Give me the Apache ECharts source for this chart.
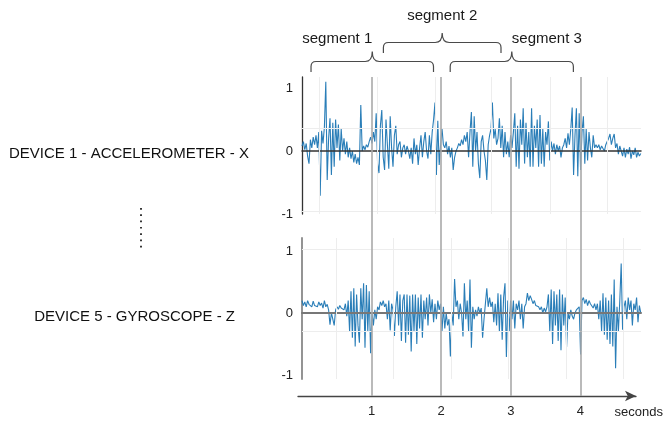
<!DOCTYPE html>
<html><head><meta charset="utf-8">
<script src="https://cdn.jsdelivr.net/npm/echarts@6/dist/echarts.min.js"></script>
<style>html,body{margin:0;padding:0;background:#fff}#c{width:666px;height:424px}</style>
</head><body><div id="c"></div>
<script>
// sample spacing in seconds
const dt = 0.02;
// DEVICE 1 - ACCELEROMETER - X
const accelX = [
 0.08, 0.15, 0.02, 0.12, -0.08, -0.2, 0.18, 0.05, 0.22, 0.1,
 0.25, 0.05, 0.3, -0.71, 0.32, 0.12, 0.38, 1.1, -0.46, 0.2,
 0.52, -0.38, 0.45, -0.25, 0.5, 0.05, 0.42, -0.15, 0.35, 0.0,
 0.2, -0.05, 0.15, -0.1, 0.05, -0.12, 0.0, -0.18, -0.05, -0.2,
 -0.1, -0.22, 0.73, 0.0, 0.08, 0.02, 0.1, 0.06, 0.15, 0.22,
 0.12, 0.3, 0.15, 0.6, -0.2, -0.35, 0.4, 0.65, -0.1, -0.3,
 0.5, 0.1, -0.28, 0.55, 0.05, -0.25, 0.25, 0.4, -0.05, 0.1,
 0.15, -0.1, 0.05, 0.1, -0.05, 0.08, 0.0, -0.12, 0.05, -0.2,
 0.2, -0.05, 0.1, -0.22, 0.05, 0.25, -0.1, 0.15, 0.3, 0.0,
 -0.12, 0.25, -0.05, 0.3, 0.5, 0.77, -0.38, 0.48, -0.22, 0.1,
 0.36, 0.1, 0.05, 0.15, -0.05, 0.08, -0.1, 0.05, -0.3, -0.1,
 0.0, 0.05, 0.12, 0.08, 0.18, 0.1, 0.25, 0.15, 0.3, -0.1,
 0.3, 0.62, -0.25, 0.55, 0.0, 0.3, -0.2, -0.43, 0.15, 0.25,
 0.0, -0.15, -0.46, 0.1, 0.25, 0.35, 0.77, 0.2, 0.35, 0.1,
 0.2, 0.52, 0.05, 0.4, -0.1, 0.3, -0.05, 0.15, -0.1, 0.25,
 0.05, 0.3, 0.6, -0.25, 0.4, -0.28, 0.5, 0.1, 0.68, -0.2,
 0.45, -0.1, 0.3, -0.25, 0.68, -0.25, 0.4, 0.05, 0.5, -0.25,
 0.57, -0.2, 0.35, -0.25, 0.3, 0.1, 0.47, -0.15, 0.15, 0.0,
 0.12, -0.05, 0.1, 0.0, 0.08, -0.1, 0.05, 0.1, 0.2, 0.05,
 0.28, 0.1, 0.35, 0.69, -0.38, 0.25, 0.68, -0.4, 0.6, -0.3,
 0.3, 0.55, -0.2, 0.35, -0.15, 0.3, 0.05, -0.1, 0.25, 0.05,
 0.1, 0.05, 0.1, 0.02, 0.08, 0.05, 0.0, 0.1, 0.15, 0.2,
 0.27, 0.1, 0.2, 0.27, 0.05, 0.12, -0.05, 0.08, 0.0, -0.08,
 0.05, -0.1, 0.03, -0.05, 0.06, -0.12, 0.0, -0.06, 0.05, -0.1,
 -0.02, -0.08, -0.04
];
// DEVICE 5 - GYROSCOPE - Z
const gyroZ = [
 0.2, 0.12, 0.18, 0.1, 0.2, 0.14, 0.17, 0.1, 0.19, 0.12,
 0.15, 0.1, 0.18, 0.12, 0.16, 0.08, 0.2, 0.1, 0.14, 0.05,
 -0.19, 0.0, -0.1, -0.2, 0.05, 0.1, 0.06, 0.12, 0.08, 0.1,
 0.05, 0.15, -0.05, 0.2, -0.3, 0.35, -0.4, 0.4, -0.54, 0.3,
 -0.2, -0.48, 0.4, -0.1, 0.48, -0.56, 0.45, -0.3, 0.35, -0.65,
 0.0, -0.2, 0.05, -0.1, 0.1, 0.05, 0.18, 0.12, 0.2, 0.1,
 0.15, -0.1, 0.2, -0.28, 0.15, 0.05, -0.37, 0.1, 0.35, -0.2,
 0.3, -0.45, 0.2, 0.3, -0.48, 0.3, -0.35, 0.28, -0.62, 0.3,
 -0.3, 0.3, -0.5, 0.25, -0.25, 0.3, -0.4, 0.2, -0.1, 0.25,
 -0.2, 0.3, 0.0, 0.22, -0.15, 0.15, -0.1, 0.2, 0.05, 0.15,
 -0.3, 0.1, -0.25, 0.0, -0.2, -0.1, -0.7, 0.0, -0.2, 0.55,
 0.1, 0.2, -0.1, 0.15, 0.0, -0.38, 0.48, -0.1, 0.2, -0.3,
 0.54, -0.56, 0.1, -0.1, 0.05, -0.05, 0.1, 0.0, 0.08, -0.4,
 -0.1, 0.15, 0.4, 0.1, 0.25, 0.1, 0.18, -0.15, 0.15, -0.2,
 0.32, -0.3, 0.3, -0.43, 0.25, 0.48, -0.71, 0.2, -0.3, 0.2,
 -0.1, 0.2, -0.25, 0.15, 0.05, 0.2, -0.1, 0.15, -0.25, 0.1,
 0.15, 0.32, 0.2, 0.28, 0.22, 0.15, 0.2, 0.12, 0.15, 0.1,
 0.05, 0.1, 0.0, 0.08, 0.02, 0.1, 0.3, -0.3, 0.38, -0.5,
 0.35, -0.2, 0.3, -0.45, 0.38, -0.6, 0.3, -0.2, 0.25, -0.55,
 0.0, -0.1, 0.05, -0.05, -0.1, 0.0, 0.05, 0.08, 0.1, -0.67,
 0.2, 0.25, 0.15, 0.22, 0.12, 0.2, 0.15, 0.18, 0.08, 0.15,
 0.05, 0.15, -0.1, 0.2, -0.3, 0.32, -0.35, 0.25, -0.43, 0.2,
 -0.5, 0.3, -0.54, 0.54, -0.89, 0.1, -0.3, 0.2, 0.8, -0.27,
 0.1, 0.2, -0.1, 0.25, 0.05, 0.2, -0.2, 0.15, 0.05, 0.25,
 -0.15, 0.12, 0.0
];
const panelLabels = ['DEVICE 1 - ACCELEROMETER - X', 'DEVICE 5 - GYROSCOPE - Z'];
const yTicks = [-1, 0, 1];
const secondTicks = [1, 2, 3, 4];
const xName = 'seconds';
// analysis windows (seconds)
const segLabels = ['segment 1', 'segment 2', 'segment 3'];
const segStart = [0.13, 1.17, 2.13];
const segEnd = [1.89, 2.86, 3.90];
const segRow = [0, 1, 0];
// faint background grid lines (seconds / values)
const topFaintX = [0.243, 1.071, 1.9, 2.714, 3.543, 4.357];
const topFaintY = [0.365, -0.95];
const botFaintX = [0.486, 1.3, 2.129, 2.943, 3.771, 4.586];
const botFaintY = [1.03, -0.29];

const FONT = '"Liberation Sans", Arial, Helvetica, sans-serif';
const toPairs = arr => arr.map((v, i) => [+(i * dt).toFixed(2), v]);
const tEnd = 4.843;

const chart = echarts.init(document.getElementById('c'), null, {renderer: 'canvas'});

function faintMark(xs, ys) {
  return {
    silent: true, symbol: ['none', 'none'], label: {show: false},
    lineStyle: {color: '#ededed', width: 1, type: 'solid'},
    emphasis: {disabled: true},
    data: xs.map(x => ({xAxis: x})).concat(ys.map(y => ({yAxis: y})))
  };
}

function bracePath(params, api) {
  const x1 = api.coord([api.value(0), 0])[0];
  const x2 = api.coord([api.value(1), 0])[0];
  const xm = (x1 + x2) / 2;
  const row = api.value(2);
  const tip = row ? 53 : 72;
  const bar = row ? 42.5 : 61.5;
  const cusp = row ? 33 : 51.5;
  const r = 5, rc = 7;
  const d = `M${x1},${tip} L${x1},${bar + r} Q${x1},${bar} ${x1 + r},${bar} L${xm - rc},${bar} Q${xm},${bar} ${xm},${cusp} Q${xm},${bar} ${xm + rc},${bar} L${x2 - r},${bar} Q${x2},${bar} ${x2},${bar + r} L${x2},${tip}`;
  const n = segLabels.length;
  const idx = params.dataIndex;
  const align = idx === 0 ? 'right' : (idx === n - 1 ? 'left' : 'center');
  return {
    type: 'group',
    children: [
      {type: 'path', shape: {pathData: d}, style: {fill: 'none', stroke: '#4a4a4a', lineWidth: 1.2}},
      {type: 'text', style: {text: segLabels[idx], x: xm, y: row ? 23 : 46, align: align, verticalAlign: 'bottom',
        font: '15px ' + FONT, fill: '#1a1a1a'}}
    ]
  };
}

const option = {
  animation: false,
  textStyle: {fontFamily: FONT},
  grid: [
    {left: 302, top: 77, width: 339, height: 137},
    {left: 302, top: 238, width: 339, height: 141},
    {left: 298, top: 77, right: 28, bottom: 28}
  ],
  xAxis: [
    {gridIndex: 0, type: 'value', min: 0, max: tEnd, z: 4,
     axisLine: {show: true, onZero: true, lineStyle: {color: '#333', width: 1.5}},
     axisTick: {show: false}, axisLabel: {show: false}, splitLine: {show: false}},
    {gridIndex: 1, type: 'value', min: 0, max: tEnd, z: 4,
     axisLine: {show: true, onZero: true, lineStyle: {color: '#777', width: 2}},
     axisTick: {show: false}, axisLabel: {show: false}, splitLine: {show: false}},
    {gridIndex: 2, type: 'value', min: -4 / 70, max: 4.8,
     axisLine: {show: true, onZero: false, symbol: ['none', 'arrow'], symbolSize: [8, 11],
       lineStyle: {color: '#444', width: 1.3}},
     axisTick: {show: false}, splitLine: {show: false},
     axisLabel: {customValues: secondTicks, fontSize: 13, color: '#222', margin: 9,
       formatter: v => (secondTicks.indexOf(v) >= 0 ? String(v) : '')},
     name: xName, nameLocation: 'end', nameGap: 27,
     nameTextStyle: {fontSize: 13, color: '#222', align: 'right', verticalAlign: 'top', padding: [10, 0, 0, 0]}}
  ],
  yAxis: [
    {gridIndex: 0, type: 'value', min: -1, max: 1.175,
     axisLine: {show: true, onZero: false, lineStyle: {color: '#333', width: 1.3}},
     axisTick: {show: false}, splitLine: {show: false},
     axisLabel: {customValues: yTicks, fontSize: 13, color: '#222', margin: 9},
     name: panelLabels[0], nameLocation: 'middle', nameRotate: 0, nameGap: 53,
     nameTextStyle: {fontSize: 15, color: '#111', verticalAlign: 'top', lineHeight: 16}},
    {gridIndex: 1, type: 'value', min: -1.065, max: 1.21,
     axisLine: {show: true, onZero: false, lineStyle: {color: '#888', width: 1.8}},
     axisTick: {show: false}, splitLine: {show: false},
     axisLabel: {customValues: yTicks, fontSize: 13, color: '#222', margin: 9},
     name: panelLabels[1], nameLocation: 'middle', nameRotate: 0, nameGap: 67,
     nameTextStyle: {fontSize: 15, color: '#111', verticalAlign: 'top', lineHeight: 16}},
    {gridIndex: 2, type: 'value', min: 0, max: 1, show: false}
  ],
  graphic: [
    {type: 'line', shape: {x1: 141, y1: 208, x2: 141, y2: 248},
     style: {stroke: '#222', lineWidth: 1.8, lineDash: [1.7, 4.6]}}
  ],
  series: [
    {type: 'line', xAxisIndex: 0, yAxisIndex: 0, z: 1, silent: true, showSymbol: false,
     data: toPairs(accelX), lineStyle: {opacity: 0}, markLine: faintMark(topFaintX, topFaintY)},
    {type: 'line', xAxisIndex: 1, yAxisIndex: 1, z: 1, silent: true, showSymbol: false,
     data: toPairs(gyroZ), lineStyle: {opacity: 0}, markLine: faintMark(botFaintX, botFaintY)},
    {type: 'line', name: panelLabels[0], xAxisIndex: 0, yAxisIndex: 0, z: 3, showSymbol: false,
     data: toPairs(accelX), lineStyle: {color: '#1f77b4', width: 1.1, opacity: 0.95}},
    {type: 'line', name: panelLabels[1], xAxisIndex: 1, yAxisIndex: 1, z: 3, showSymbol: false,
     data: toPairs(gyroZ), lineStyle: {color: '#1f77b4', width: 1.1, opacity: 0.95}},
    {type: 'line', xAxisIndex: 2, yAxisIndex: 2, z: 6, silent: true, showSymbol: false,
     data: [], markLine: {silent: true, symbol: ['none', 'none'], label: {show: false},
       lineStyle: {color: '#a9a9a9', width: 1.6, type: 'solid'}, emphasis: {disabled: true},
       data: secondTicks.map(s => ({xAxis: s}))}},
    {type: 'custom', xAxisIndex: 2, yAxisIndex: 2, z: 6, silent: true, clip: false,
     encode: {x: [0, 1], y: 2},
     data: segStart.map((s, i) => [s, segEnd[i], segRow[i]]),
     renderItem: bracePath}
  ]
};
chart.setOption(option);
</script>
</body></html>
